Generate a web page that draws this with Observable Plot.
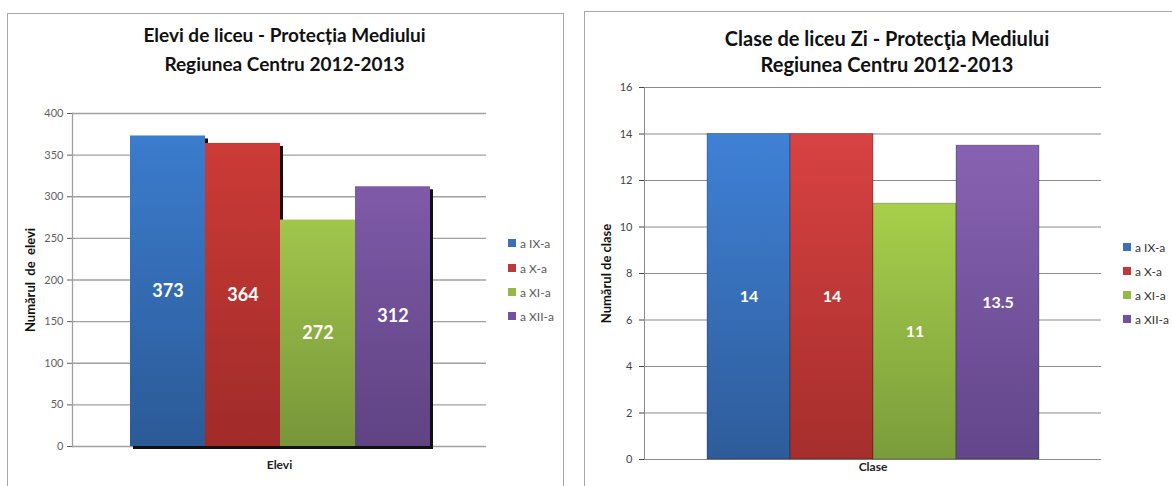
<!DOCTYPE html>
<html>
<head>
<meta charset="utf-8">
<script src="https://cdn.jsdelivr.net/npm/d3@7"></script>
<script src="https://cdn.jsdelivr.net/npm/@observablehq/plot@0.6"></script>
<style>
  html, body { margin: 0; padding: 0; background: #fff; }
  #root { position: relative; width: 1172px; height: 486px; overflow: hidden; font-family: Lato, "Open Sans", sans-serif; }
  .panel { position: absolute; border: 1.5px solid #a8a8a8; box-sizing: border-box; }
  .chart { position: absolute; top: 0; }
  .legend { position: absolute; font-size: 12px; }
  .legend .item { position: absolute; white-space: nowrap; display: flex; align-items: center; }
  .legend .sw { display: inline-block; margin-right: 4px; }
</style>
</head>
<body>
<div id="root">
  <div class="panel" style="left:7px; top:13px; width:557px; height:490px;"></div>
  <div class="panel" style="left:584px; top:11px; width:600px; height:490px;"></div>
  <div class="chart" id="left" style="left:0px;"></div>
  <div class="chart" id="right" style="left:580px;"></div>
  <div class="legend" id="legL"></div>
  <div class="legend" id="legR"></div>
</div>
<script>
// ---- data ----
const grades = ["a IX-a", "a X-a", "a XI-a", "a XII-a"];
const elevi = [373, 364, 272, 312];
const clase = [14, 14, 11, 13.5];
const eleviTicks = [0, 50, 100, 150, 200, 250, 300, 350, 400];
const claseTicks = [0, 2, 4, 6, 8, 10, 12, 14, 16];
const titleLeft = "Elevi de liceu - Protecția Mediului\nRegiunea Centru 2012-2013";
const titleRight = "Clase de liceu Zi - Protecţia Mediului\nRegiunea Centru 2012-2013";
const yLabelLeft = "Numărul  de  elevi";
const yLabelRight = "Numărul de clase";
const xLabelLeft = "Elevi";
const xLabelRight = "Clase";

// ---- colours ----
const topColors = ["#3b7ccd", "#cc3b37", "#a1c64b", "#7f5aa8"];
const botColors = ["#2b5a97", "#9f2b29", "#77963a", "#5f4382"];
const topColorsR = ["#3f81d6", "#d84242", "#a8cf4b", "#8862b2"];
const botColorsR = ["#2e5c9a", "#a52e2c", "#7b9c3b", "#62468a"];
const legendColors = ["#3a6fbc", "#c0393a", "#94b945", "#7350a0"];

const dataL = grades.map((g, i) => ({g, v: elevi[i]}));
const dataR = grades.map((g, i) => ({g, v: clase[i]}));

function gradientDefs(prefix, tops, bots) {
  return "<defs>" + tops.map((t, i) =>
    `<linearGradient id="${prefix}${i}" x1="0" y1="0" x2="0" y2="1">` +
    `<stop offset="0" stop-color="${t}"/><stop offset="1" stop-color="${bots[i]}"/></linearGradient>`
  ).join("") + "</defs>";
}

const font = "Lato, 'Open Sans', sans-serif";

// ---- left chart ----
const left = Plot.plot({
  width: 580, height: 486,
  marginLeft: 72, marginRight: 94, marginTop: 113, marginBottom: 40,
  style: {fontFamily: font, background: "transparent", overflow: "visible"},
  x: {domain: grades, range: [129, 430], padding: 0, axis: null},
  y: {domain: [0, 400], axis: null},
  color: {domain: grades, range: grades.map((_, i) => `url(#gL${i})`)},
  marks: [
    Plot.ruleY(eleviTicks, {stroke: "#a0a0a0", strokeWidth: 1.3}),
    Plot.axisY({ticks: eleviTicks, tickSize: 5, tickPadding: 4, fontSize: 11, color: "#5f5f5f", label: null}),
    Plot.frame({anchor: "left", stroke: "#a0a0a0", strokeWidth: 1.3}),
    Plot.barY(dataL, {x: "g", y: "v", fill: "#111", dx: 3, dy: 3, inset: 0}),
    Plot.barY(dataL, {x: "g", y: "v", fill: "g", inset: 0}),
    Plot.text(dataL, {x: "g", y: d => d.v / 2, text: d => String(d.v), fill: "white", fontSize: 18, fontWeight: "bold"}),
    Plot.text([yLabelLeft], {frameAnchor: "left", textAnchor: "middle", rotate: -90, dx: -42, fontSize: 13, fontWeight: "bold", fill: "#111", text: d => d}),
    Plot.text([xLabelLeft], {frameAnchor: "bottom", dy: 22, fontSize: 12, fontWeight: "bold", fill: "#222", text: d => d}),
    Plot.text([titleLeft], {frameAnchor: "top", dx: 5, dy: -66, lineAnchor: "middle", lineHeight: 1.5, fontSize: 19, fontWeight: "bold", fill: "#111", text: d => d})
  ]
});
left.insertAdjacentHTML("afterbegin", gradientDefs("gL", topColors, botColors));
document.getElementById("left").appendChild(left);

// ---- right chart ----
const right = Plot.plot({
  width: 592, height: 486,
  marginLeft: 64, marginRight: 71, marginTop: 87, marginBottom: 27,
  style: {fontFamily: font, background: "transparent", overflow: "visible"},
  x: {domain: grades, range: [126, 459], padding: 0, axis: null},
  y: {domain: [0, 16], axis: null},
  color: {domain: grades, range: grades.map((_, i) => `url(#gR${i})`)},
  marks: [
    Plot.ruleY(claseTicks, {stroke: "#8a8a8a", strokeWidth: 1}),
    Plot.axisY({ticks: claseTicks, tickSize: 5, tickPadding: 7, fontSize: 11, color: "#444", label: null}),
    Plot.frame({anchor: "left", stroke: "#8a8a8a", strokeWidth: 1}),
    Plot.barY(dataR, {x: "g", y: "v", fill: "g", inset: 0, stroke: "#000", strokeOpacity: 0.25, strokeWidth: 1}),
    Plot.text(dataR, {x: "g", y: d => d.v / 2, text: d => String(d.v), fill: "white", fontSize: 16, fontWeight: "bold"}),
    Plot.text([yLabelRight], {frameAnchor: "left", textAnchor: "middle", rotate: -90, dx: -38, fontSize: 13, fontWeight: "bold", fill: "#111", text: d => d}),
    Plot.text([xLabelRight], {frameAnchor: "bottom", dy: 11, fontSize: 12, fontWeight: "bold", fill: "#222", text: d => d}),
    Plot.text([titleRight], {frameAnchor: "top", dx: 14, dy: -37, lineAnchor: "middle", lineHeight: 1.3, fontSize: 20, fontWeight: "bold", fill: "#111", text: d => d})
  ]
});
right.insertAdjacentHTML("afterbegin", gradientDefs("gR", topColorsR, botColorsR));
document.getElementById("right").appendChild(right);

// ---- legends ----
function legend(id, x, ys, size, color, fontSize) {
  const el = document.getElementById(id);
  grades.forEach((g, i) => {
    const it = document.createElement("div");
    it.className = "item";
    it.style.left = x + "px";
    it.style.top = (ys[i] - 8) + "px";
    it.style.height = "16px";
    it.style.color = color;
    it.style.fontSize = fontSize + "px";
    it.innerHTML = `<span class="sw" style="width:${size}px;height:${size}px;background:${legendColors[i]}"></span>${g}`;
    el.appendChild(it);
  });
}
legend("legL", 508, [243, 268, 292, 316], 8, "#5a5a5a", 12);
legend("legR", 1123, [247, 271, 295, 319], 8, "#333", 12);
</script>
</body>
</html>
